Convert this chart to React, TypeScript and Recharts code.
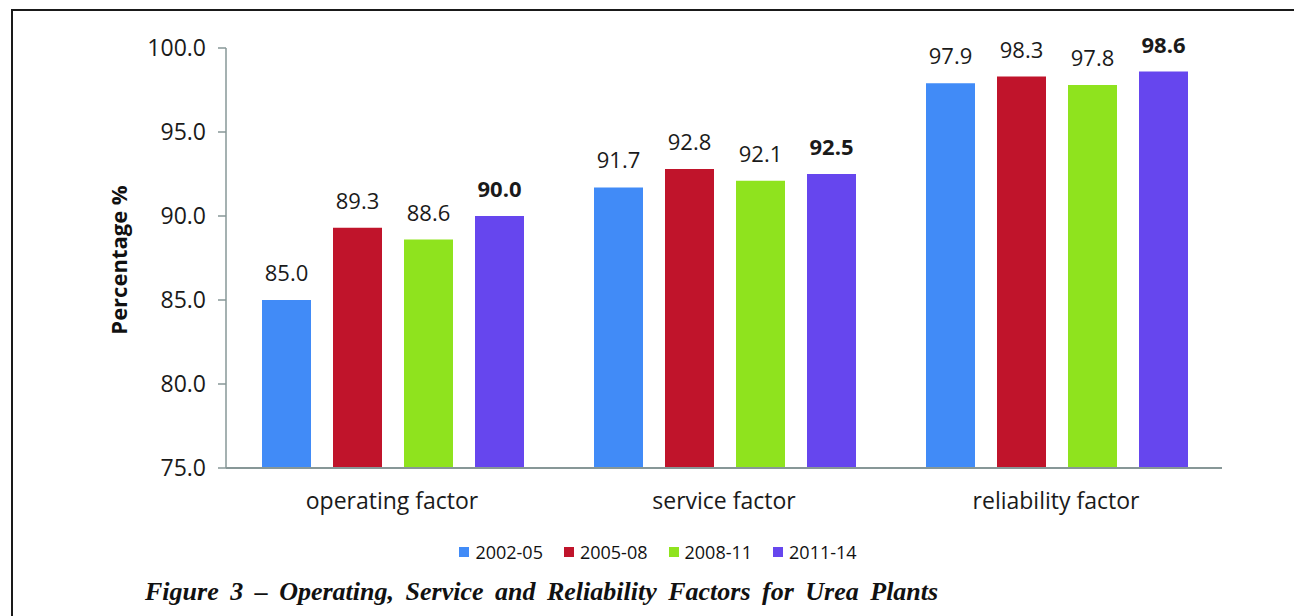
import { BarChart, Bar, XAxis, YAxis, Legend, LabelList, Label } from "recharts";

const FACTORS = ["operating factor", "service factor", "reliability factor"];
const P2002_05 = [85.0, 91.7, 97.9];
const P2005_08 = [89.3, 92.8, 98.3];
const P2008_11 = [88.6, 92.1, 97.8];
const P2011_14 = [90.0, 92.5, 98.6];
const Y_TICKS = [75, 80, 85, 90, 95, 100];

const SERIES = [
  { key: "p1", label: "2002-05", color: "#418bf7", bold: false },
  { key: "p2", label: "2005-08", color: "#c0142b", bold: false },
  { key: "p3", label: "2008-11", color: "#8fe31e", bold: false },
  { key: "p4", label: "2011-14", color: "#6646ee", bold: true },
];

const data = FACTORS.map((name, i) => ({
  name,
  p1: P2002_05[i],
  p2: P2005_08[i],
  p3: P2008_11[i],
  p4: P2011_14[i],
}));

const FONT = "'Open Sans', 'Noto Sans', sans-serif";
const AXIS = "#879797";

function LegendRow() {
  return (
    <div style={{ display: "flex", justifyContent: "center", gap: 21, height: 20, marginRight: 32, fontFamily: FONT, fontSize: 18, color: "#111" }}>
      {SERIES.map((s) => (
        <div key={s.key} style={{ display: "flex", alignItems: "center", gap: 6 }}>
          <span style={{ width: 10, height: 10, background: s.color, display: "inline-block" }} />
          <span>{s.label}</span>
        </div>
      ))}
    </div>
  );
}

export default function App() {
  return (
    <div style={{ position: "absolute", left: 0, top: 0, width: 1294, height: 616, background: "#fff", overflow: "hidden" }}>
      <div style={{ position: "absolute", left: 11, top: 9, right: 0, bottom: 0, borderTop: "2px solid #1a1a1a", borderLeft: "2px solid #1a1a1a" }} />
      <BarChart
        width={1294}
        height={575}
        data={data}
        margin={{ top: 48, right: 72, left: 126, bottom: 13 }}
        barCategoryGap={36}
        barGap={22}
        style={{ position: "absolute", left: 0, top: 0 }}
      >
        <XAxis
          dataKey="name"
          height={74}
          tickLine={false}
          axisLine={{ stroke: AXIS, strokeWidth: 2 }}
          tick={{ fontFamily: FONT, fontSize: 23, fill: "#1a1a1a" }}
          tickMargin={19}
        />
        <YAxis
          width={100}
          domain={[75, 100]}
          ticks={Y_TICKS}
          interval={0}
          tickFormatter={(v: number) => v.toFixed(1)}
          tickSize={8}
          tickMargin={12}
          tickLine={{ stroke: AXIS, strokeWidth: 1.5 }}
          axisLine={{ stroke: AXIS, strokeWidth: 1.5 }}
          tick={{ fontFamily: FONT, fontSize: 23, fill: "#1a1a1a" }}
          allowDataOverflow
        >
          <Label
            content={() => (
              <text
                x={118}
                y={260}
                transform="rotate(-90, 118, 260)"
                textAnchor="middle"
                dominantBaseline="central"
                fontFamily={FONT}
                fontSize={22}
                fontWeight="bold"
                fill="#111"
              >
                Percentage %
              </text>
            )}
          />
        </YAxis>
        <Legend verticalAlign="bottom" content={() => <LegendRow />} />
        {SERIES.map((s) => (
          <Bar key={s.key} dataKey={s.key} name={s.label} fill={s.color} isAnimationActive={false}>
            <LabelList
              dataKey={s.key}
              position="top"
              offset={19}
              formatter={(v: number) => v.toFixed(1)}
              style={{ fontFamily: FONT, fontSize: 22, fontWeight: s.bold ? "bold" : "normal", fill: "#1a1a1a" }}
            />
          </Bar>
        ))}
      </BarChart>
      <div
        style={{
          position: "absolute",
          left: 145,
          top: 577,
          fontFamily: "'Liberation Serif', serif",
          fontStyle: "italic",
          fontWeight: "bold",
          fontSize: 26,
          wordSpacing: 5,
          color: "#111",
          whiteSpace: "nowrap",
        }}
      >
        Figure 3 – Operating, Service and Reliability Factors for Urea Plants
      </div>
    </div>
  );
}
